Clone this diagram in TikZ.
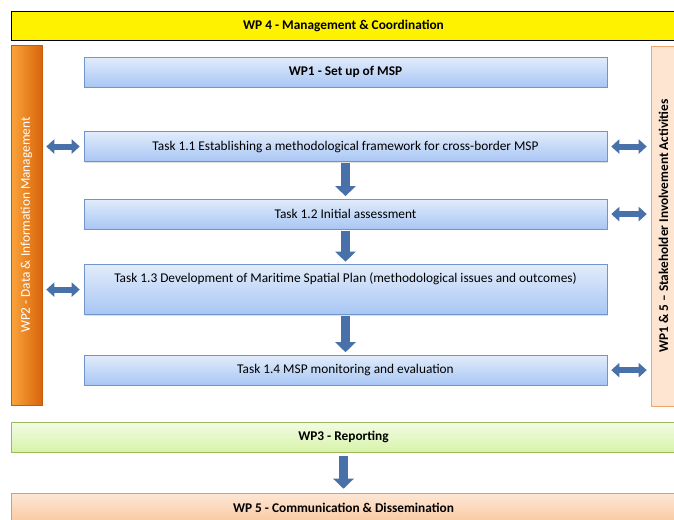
\documentclass[tikz,border=0pt]{standalone}
\usepackage{fontspec}
\setmainfont{Carlito}
\usetikzlibrary{arrows.meta,positioning,shadows}
\definecolor{tasktop}{HTML}{E2ECFB}
\definecolor{taskbot}{HTML}{A8C6F4}
\definecolor{taskedge}{HTML}{6F95C9}
\definecolor{arrowblue}{HTML}{4771A8}
\definecolor{orangeL}{HTML}{FAA43C}
\definecolor{orangeR}{HTML}{D9650C}
\definecolor{peach}{HTML}{FDE5D2}
\definecolor{peachedge}{HTML}{F2A46A}
\definecolor{greentop}{HTML}{F3FCE6}
\definecolor{greenbot}{HTML}{D6F3A8}
\definecolor{greenedge}{HTML}{9BBB59}
\definecolor{salmontop}{HTML}{FDE7D6}
\definecolor{salmonbot}{HTML}{FBC8A0}
\definecolor{salmonedge}{HTML}{F79646}

\begin{document}
\begin{tikzpicture}[x=0.75pt, y=-0.75pt, font=\fontsize{10}{12}\selectfont,
  task/.style={draw=taskedge, top color=tasktop, bottom color=taskbot, inner sep=0pt,
    minimum width=392.25pt, minimum height=22.5pt,
    drop shadow={opacity=0.25, shadow xshift=0.8pt, shadow yshift=-0.8pt}},
  band/.style={draw=#1, inner sep=0pt, minimum width=498.75pt, minimum height=22.5pt,
    font=\fontsize{10}{12}\selectfont\bfseries,
    drop shadow={opacity=0.25, shadow xshift=0.8pt, shadow yshift=-0.8pt}},
  side/.style={inner sep=0pt, minimum width=270pt, rotate=90},
  down/.style={arrowblue, line width=7pt, shorten <=1pt, shorten >=2pt,
    -{Triangle[length=7.5pt, width=15pt]}},
  both/.style={arrowblue, line width=4.5pt, shorten <=3pt, shorten >=3pt,
    {Triangle[length=6pt, width=10.5pt]}-{Triangle[length=6pt, width=10.5pt]}}]
\useasboundingbox (0,0) rectangle (674,519);
\node[band=black, fill=yellow, minimum height=21.75pt] (wp4) at (343.5,25.5) {WP 4 - Management \& Coordination};
\node[side, minimum height=23.25pt, left color=orangeL, right color=orangeR, draw=orangeR!90!black,
  text=white, drop shadow={opacity=0.25, shadow xshift=0.8pt, shadow yshift=-0.8pt}]
  (wp2) at (26.5,225) {WP2 - Data \& Information Management};
\node[side, minimum height=18.75pt, fill=peach, draw=peachedge, font=\fontsize{10}{12}\selectfont\bfseries]
  (wp15) at (663.5,226) {WP1 \& 5 -- Stakeholder Involvement Activities};
\node[task, font=\fontsize{10}{12}\selectfont\bfseries] (wp1) at (345.5,72) {WP1 - Set up of MSP};
\node[task, below=33pt of wp1] (t11) {Task 1.1 Establishing a methodological framework for cross-border MSP};
\node[task, below=27.75pt of t11] (t12) {Task 1.2 Initial assessment};
\node[task, below=26.25pt of t12, minimum height=37.5pt, text height=7pt, text depth=18pt] (t13)
  {Task 1.3 Development of Maritime Spatial Plan (methodological issues and outcomes)};
\node[task, below=30pt of t13] (t14) {Task 1.4 MSP monitoring and evaluation};
\node[band=greenedge, top color=greentop, bottom color=greenbot] (wp3) at (343.5,437) {WP3 - Reporting};
\node[band=salmonedge, top color=salmontop, bottom color=salmonbot] (wp5) at (343.5,508) {WP 5 - Communication \& Dissemination};
\draw[down] (t11) -- (t12);
\draw[down] (t12) -- (t13);
\draw[down] (t13) -- (t14);
\draw[down, shorten <=3pt, shorten >=3pt] (wp3) -- (wp5);
\draw[both] (wp2.south |- t11.west) -- (t11.west);
\draw[both] (wp2.south |- t13.west) -- (t13.west);
\draw[both] (t11.east) -- (wp15.north |- t11.east);
\draw[both] (t12.east) -- (wp15.north |- t12.east);
\draw[both] (t14.east) -- (wp15.north |- t14.east);
\end{tikzpicture}
\end{document}
